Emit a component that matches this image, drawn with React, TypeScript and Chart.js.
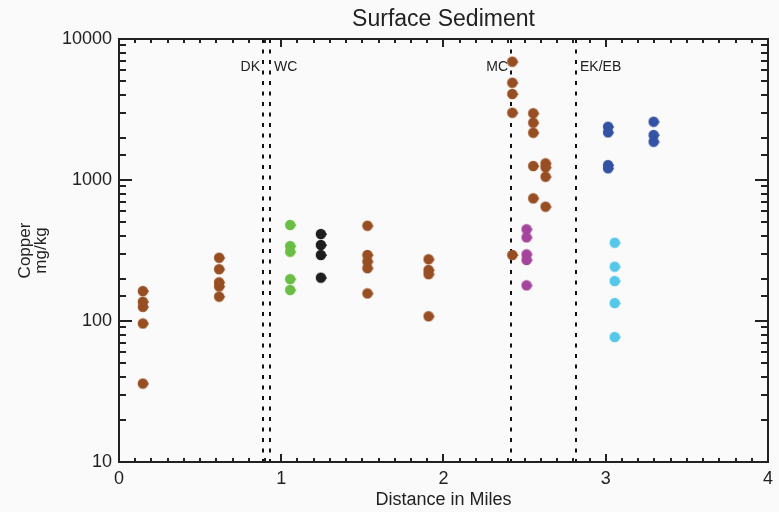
import React, { useEffect, useRef } from 'react';
import { Chart, registerables } from 'chart.js';

Chart.register(...registerables);

// ---- Data ----
const siteMiles = [0.15, 0.62, 1.058, 1.247, 1.534, 1.911, 2.427, 2.515, 2.556, 2.632, 3.017, 3.058, 3.298];
const siteGroup = ['brown', 'brown', 'green', 'black', 'brown', 'brown', 'brown', 'purple', 'brown', 'brown', 'blue', 'cyan', 'blue'];
const siteCopper = [
  [163, 137, 126, 96, 36],
  [281, 233, 188, 176, 149],
  [480, 340, 310, 198, 166],
  [414, 346, 294, 203],
  [474, 294, 264, 237, 157],
  [274, 230, 215, 108],
  [6905, 4898, 4074, 3000, 294],
  [447, 392, 297, 271, 179],
  [2972, 2548, 2165, 1256, 741],
  [1313, 1231, 1055, 647],
  [2388, 2178, 1276, 1211],
  [359, 243, 192, 134, 77],
  [2591, 2085, 1869],
];

const groupNames = ['brown', 'green', 'black', 'purple', 'blue', 'cyan'];
const groupColors = ['#984E23', '#6ABE45', '#1E1E1E', '#A4459C', '#3453A4', '#55C7EA'];

const boundaryMiles = [0.888, 0.929, 2.417, 2.817];
const boundaryLabels = ['DK', 'WC', 'MC', 'EK/EB'];
const boundaryLabelSide = ['left', 'right', 'left', 'right'];

const chartTitle = 'Surface Sediment';
const xTitle = 'Distance in Miles';
const yTitle = ['Copper', 'mg/kg'];
const xMin = 0;
const xMax = 4;
const yMin = 10;
const yMax = 10000;

const FONT = '"Liberation Sans", Arial, Helvetica, sans-serif';
const INK = '#222222';

const isInt = (v: number) => Math.abs(v - Math.round(v)) < 1e-6;
const isPow10 = (v: number) => {
  const l = Math.log10(v);
  return Math.abs(l - Math.round(l)) < 1e-6;
};

// Marker: a round dot with a slight point on its right side
function makeMarker(color: string): HTMLCanvasElement {
  const c = document.createElement('canvas');
  c.width = 13;
  c.height = 12;
  const g = c.getContext('2d')!;
  g.fillStyle = color;
  g.beginPath();
  g.arc(6, 6, 5.2, 0, Math.PI * 2);
  g.fill();
  g.beginPath();
  g.moveTo(8.5, 1.9);
  g.lineTo(12.2, 6.2);
  g.lineTo(8.5, 10.3);
  g.closePath();
  g.fill();
  return c;
}

const framePlugin = {
  id: 'idlFrame',
  beforeDraw(chart: any) {
    const { ctx, width, height } = chart;
    ctx.save();
    ctx.fillStyle = '#FAFAFA';
    ctx.fillRect(0, 0, width, height);
    ctx.restore();
  },
  beforeDatasetsDraw(chart: any) {
    const { ctx, chartArea } = chart;
    const xs = chart.scales.x;
    ctx.save();
    ctx.strokeStyle = '#111111';
    ctx.lineWidth = 2;
    ctx.setLineDash([4, 6.5]);
    ctx.font = `14px ${FONT}`;
    ctx.fillStyle = INK;
    ctx.textBaseline = 'middle';
    boundaryMiles.forEach((m, i) => {
      const px = Math.round(xs.getPixelForValue(m));
      ctx.beginPath();
      ctx.moveTo(px, chartArea.top);
      ctx.lineTo(px, chartArea.bottom);
      ctx.stroke();
      if (boundaryLabelSide[i] === 'left') {
        ctx.textAlign = 'right';
        ctx.fillText(boundaryLabels[i], px - 3, 67);
      } else {
        ctx.textAlign = 'left';
        ctx.fillText(boundaryLabels[i], px + 4, 67);
      }
    });
    ctx.restore();
  },
  afterDatasetsDraw(chart: any) {
    const { ctx, chartArea } = chart;
    const { left, right, top, bottom } = chartArea;
    const xs = chart.scales.x;
    const ys = chart.scales.y;
    ctx.save();
    ctx.strokeStyle = INK;
    ctx.lineWidth = 2;
    ctx.setLineDash([]);
    ctx.beginPath();
    xs.ticks.forEach((t: any) => {
      const px = Math.round(xs.getPixelForValue(t.value));
      if (px <= left + 1 || px >= right - 1) return;
      const len = isInt(t.value) ? 8 : 4;
      ctx.moveTo(px, bottom);
      ctx.lineTo(px, bottom - len);
      ctx.moveTo(px, top);
      ctx.lineTo(px, top + len);
    });
    ys.ticks.forEach((t: any) => {
      const py = Math.round(ys.getPixelForValue(t.value));
      if (py <= top + 1 || py >= bottom - 1) return;
      const len = isPow10(t.value) ? 13 : 7;
      ctx.moveTo(left, py);
      ctx.lineTo(left + len, py);
      ctx.moveTo(right, py);
      ctx.lineTo(right - len, py);
    });
    ctx.stroke();
    ctx.strokeRect(left, top, right - left, bottom - top);
    ctx.restore();
  },
};

export default function App() {
  const ref = useRef<HTMLCanvasElement>(null);

  useEffect(() => {
    if (!ref.current) return;
    const datasets = groupNames.map((g, gi) => ({
      label: g,
      data: siteMiles.flatMap((m, i) =>
        siteGroup[i] === g ? siteCopper[i].map((v) => ({ x: m, y: v })) : []
      ),
      backgroundColor: groupColors[gi],
      borderColor: groupColors[gi],
      borderWidth: 0,
      pointStyle: makeMarker(groupColors[gi]),
      pointRadius: 5.5,
      pointHoverRadius: 5.5,
      showLine: false,
    }));

    const chart = new Chart(ref.current, {
      type: 'scatter',
      data: { datasets },
      plugins: [framePlugin],
      options: {
        animation: false,
        responsive: false,
        devicePixelRatio: 1,
        events: [],
        layout: { padding: { left: 0, right: 10, top: 0, bottom: 0 } },
        plugins: {
          legend: { display: false },
          tooltip: { enabled: false },
          title: { display: false },
        },
        scales: {
          x: {
            type: 'linear',
            position: 'bottom',
            min: xMin,
            max: xMax,
            grid: { display: false, drawTicks: false, tickLength: 0 },
            border: { display: false },
            ticks: {
              stepSize: 0.1,
              autoSkip: false,
              maxRotation: 0,
              minRotation: 0,
              padding: 6,
              color: INK,
              font: { size: 18, family: FONT },
              callback: (v: any) => (isInt(Number(v)) ? String(Math.round(Number(v))) : ''),
            },
            title: {
              display: true,
              text: xTitle,
              color: INK,
              font: { size: 18, family: FONT },
              padding: { top: 0, bottom: 1 },
            },
            afterFit: (s: any) => {
              s.height = 50;
            },
          },
          x2: {
            type: 'linear',
            position: 'top',
            min: xMin,
            max: xMax,
            grid: { display: false, drawTicks: false, tickLength: 0 },
            border: { display: false },
            ticks: { display: false },
            title: {
              display: true,
              text: chartTitle,
              color: INK,
              font: { size: 23, family: FONT },
              padding: { top: 6, bottom: 0 },
            },
            afterFit: (s: any) => {
              s.height = 39;
            },
          },
          y: {
            type: 'logarithmic',
            position: 'left',
            min: yMin,
            max: yMax,
            grid: { display: false, drawTicks: false, tickLength: 0 },
            border: { display: false },
            ticks: {
              autoSkip: false,
              padding: 7,
              color: INK,
              font: { size: 18, family: FONT },
              callback: (v: any) => (isPow10(Number(v)) ? String(Math.round(Number(v))) : ''),
            },
            title: {
              display: true,
              text: yTitle,
              color: INK,
              font: { size: 17, family: FONT, lineHeight: 0.95 },
              padding: { top: 17, bottom: 0 },
            },
            afterFit: (s: any) => {
              s.width = 119;
            },
          },
        },
      } as any,
    });

    return () => chart.destroy();
  }, []);

  return (
    <div style={{ position: 'fixed', left: 0, top: 0, width: 779, height: 512, background: '#FAFAFA' }}>
      <canvas ref={ref} width={779} height={512} style={{ display: 'block', width: 779, height: 512 }} />
    </div>
  );
}
